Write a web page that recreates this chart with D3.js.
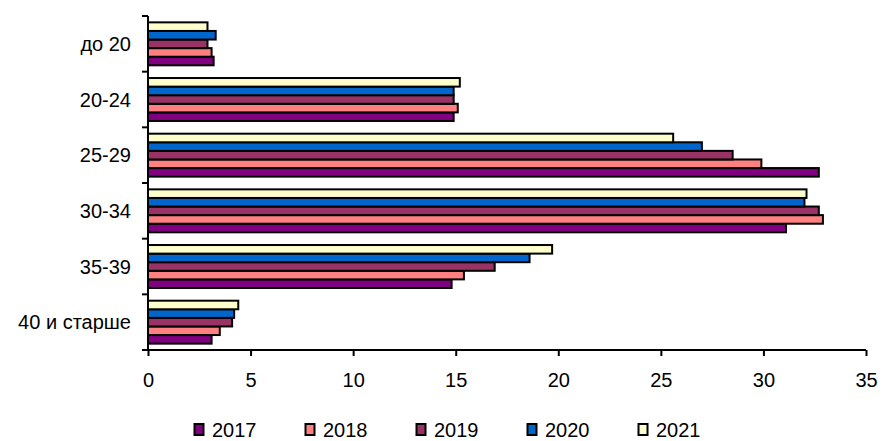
<!DOCTYPE html>
<html><head><meta charset="utf-8">
<script src="https://cdn.jsdelivr.net/npm/d3@7"></script>
<style>body{margin:0;background:#fff}svg{display:block}text{font-family:"Liberation Sans",Arial,sans-serif}</style>
</head><body><svg id="c" width="883" height="441"></svg>
<script>
const categories = ["до 20","20-24","25-29","30-34","35-39","40 и старше"];
const seriesNames = ["2017","2018","2019","2020","2021"];
const v2017 = [3.2,14.9,32.7,31.1,14.8,3.1];
const v2018 = [3.1,15.1,29.9,32.9,15.4,3.5];
const v2019 = [2.9,14.9,28.5,32.7,16.9,4.1];
const v2020 = [3.3,14.9,27.0,32.0,18.6,4.2];
const v2021 = [2.9,15.2,25.6,32.1,19.7,4.4];
const xTicks = [0,5,10,15,20,25,30,35];
const colors = ["#800080","#FF8080","#993366","#0066CC","#FFFFCC"];
const values = [v2017,v2018,v2019,v2020,v2021];

const svg = d3.select("#c");
const L=148, R=866, T=16, B=350;
const FS=20;
const x = d3.scaleLinear().domain([0,35]).range([L,R]);
const y = d3.scaleBand().domain(categories).range([T,B]).padding(0);
const inner = d3.scaleBand().domain(seriesNames.slice().reverse()).range([0,y.bandwidth()]).paddingInner(0).paddingOuter(0.74);

const g = svg.append("g");
seriesNames.forEach((s,si)=>{
  g.selectAll(null).data(categories).enter().append("rect")
    .attr("x", x(0))
    .attr("y", c=>y(c)+inner(s))
    .attr("width", (c,i)=>x(values[si][i])-x(0))
    .attr("height", inner.bandwidth())
    .attr("fill", colors[si])
    .attr("stroke","#000").attr("stroke-width",2);
});

// y axis
svg.append("line").attr("x1",L).attr("x2",L).attr("y1",T).attr("y2",B+1).attr("stroke","#000").attr("stroke-width",2);
const bounds = categories.map(c=>y(c)).concat([B]);
svg.selectAll(null).data(bounds).enter().append("line")
  .attr("x1",L-6).attr("x2",L).attr("y1",d=>d).attr("y2",d=>d).attr("stroke","#000").attr("stroke-width",2);
svg.selectAll(null).data(categories).enter().append("text")
  .attr("x",131).attr("y",c=>y(c)+y.bandwidth()/2+7)
  .attr("text-anchor","end").attr("font-size",FS).attr("fill","#000").text(c=>c);

// x axis
const xa = svg.append("g").attr("transform",`translate(0,${B})`)
  .call(d3.axisBottom(x).tickValues(xTicks).tickSize(6).tickSizeOuter(0).tickPadding(17).tickFormat(d3.format("d")));
xa.select(".domain").attr("stroke","#000").attr("stroke-width",2).attr("d",`M${L-6},0H${R}`);
xa.selectAll(".tick line").attr("stroke","#000").attr("stroke-width",2);
xa.selectAll(".tick text").attr("font-size",FS).attr("fill","#000").attr("font-family","Liberation Sans, Arial, sans-serif");

// legend
const lx = [194,305,416,527,638];
const lg = svg.selectAll(null).data(seriesNames).enter().append("g")
  .attr("transform",(d,i)=>`translate(${lx[i]},0)`);
lg.append("rect").attr("x",0.5).attr("y",424).attr("width",9).attr("height",11)
  .attr("fill",(d,i)=>colors[i]).attr("stroke","#000").attr("stroke-width",2);
lg.append("text").attr("x",18).attr("y",437).attr("font-size",FS).attr("fill","#000").text(d=>d);
</script></body></html>
